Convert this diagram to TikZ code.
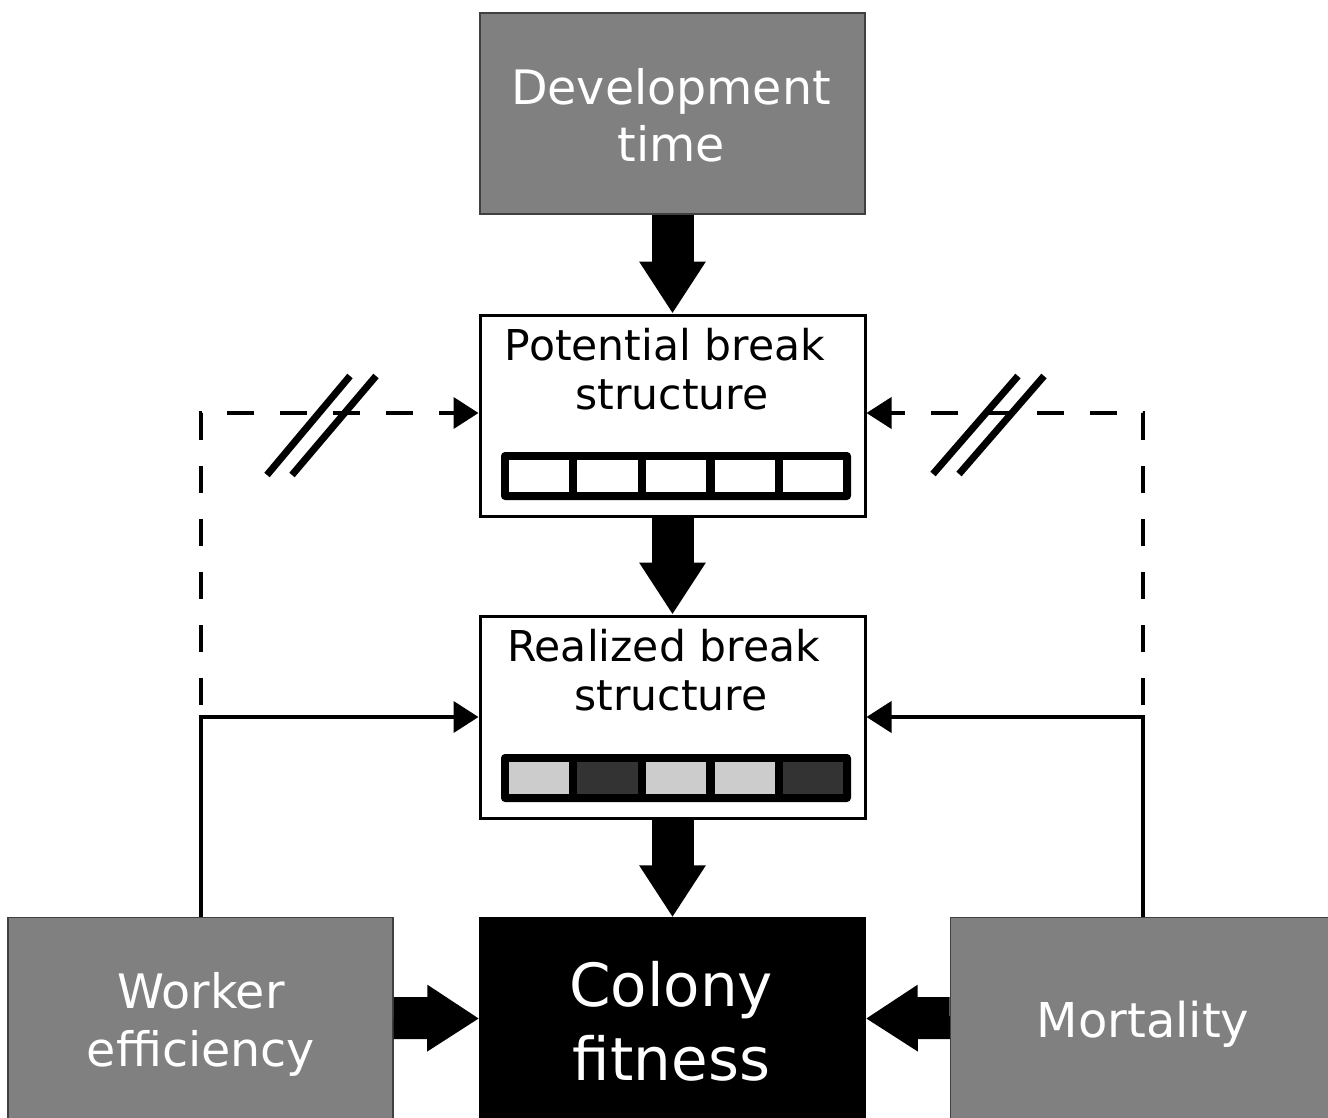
\documentclass[tikz,border=0pt]{standalone}
\usepackage{fontspec}
\setmainfont{DejaVu Sans}
\usetikzlibrary{arrows.meta}
\definecolor{boxgray}{HTML}{808080}
\definecolor{cellLight}{HTML}{CCCCCC}
\definecolor{cellDark}{HTML}{333333}
\definecolor{edgegray}{HTML}{404040}
\begin{document}
\begin{tikzpicture}[x=1pt,y=-1pt,
  graybox/.style={draw=edgegray, line width=1.5pt, fill=boxgray, minimum width=385pt, minimum height=201pt, inner sep=0pt},
  whitebox/.style={draw=black, line width=3pt, fill=white, minimum width=385pt, minimum height=201pt, inner sep=0pt},
  blackbox/.style={draw=black, line width=1.5pt, fill=black, minimum width=385pt, minimum height=201pt, inner sep=0pt},
  wtext/.style={text=white, inner sep=0pt, anchor=base},
  btext/.style={text=black, inner sep=0pt, anchor=base, font=\fontsize{42.5}{48}\selectfont},
  bigarrow/.style={draw=black, line width=42pt, -{Triangle[width=63pt,length=52pt]}},
  conn/.style={draw=black, line width=4pt, -{Triangle[width=31pt,length=25pt]}},
  dashconn/.style={conn, dash pattern=on 27pt off 26pt},
  strike/.style={draw=black, line width=7pt},
]
\useasboundingbox (0,0) rectangle (1328,1118);

% boxes
\node[graybox] (dev) at (672.5,113.5) {};
\node[whitebox] (pot) at (672.5,415.5) {};
\node[whitebox, minimum height=202pt] (real) at (672.5,717) {};
\node[blackbox] (col) at (672.5,1018.5) {};
\node[graybox] (work) at (200.5,1018) {};
\node[graybox] (mort) at (1143,1018) {};

% texts
\node[wtext, font=\fontsize{47.5}{57}\selectfont] (devA) at (671,105) {Development};
\node[wtext, font=\fontsize{47.5}{57}\selectfont] (devB) at (671.5,162) {time};
\node[btext] (potA) at (665,360) {Potential break};
\node[btext] (potB) at (672,409) {structure};
\node[btext] (realA) at (663.5,661) {Realized break};
\node[btext] (realB) at (671,710) {structure};
\node[wtext, font=\fontsize{59.5}{74}\selectfont] (colA) at (671,1006) {Colony};
\node[wtext, font=\fontsize{59.5}{74}\selectfont] (colB) at (671.5,1080) {fitness};
\node[wtext, font=\fontsize{47.5}{58}\selectfont] (workA) at (201,1008) {Worker};
\node[wtext, font=\fontsize{47.5}{58}\selectfont] (workB) at (201,1066) {efficiency};
\node[wtext, font=\fontsize{48}{58}\selectfont] (mortA) at (1143,1037) {Mortality};

% break structure bars
\fill[black, rounded corners=4pt] (501,452) rectangle (851,500);
\foreach \a/\b in {509/569,577/638,646/706,715/775,783/843}
  \fill[white] (\a,460) rectangle (\b,492);
\fill[black, rounded corners=4pt] (501,754) rectangle (851,802);
\foreach \a/\b/\c in {509/569/cellLight,577/638/cellDark,646/706/cellLight,715/775/cellLight,783/843/cellDark}
  \fill[\c] (\a,762) rectangle (\b,794);

% thick arrows
\draw[bigarrow] (dev.south) -- (pot.north);
\draw[bigarrow] (pot.south) -- (real.north);
\draw[bigarrow] (real.south) -- (col.north);
\draw[bigarrow] (work.east) -- (col.west);
\draw[bigarrow] (mort.west) -- (col.east);

% dashed connectors
\draw[dashconn] (work.north) |- ([yshift=2.5pt]pot.west);
\draw[dashconn] (mort.north) |- ([yshift=2.5pt]pot.east);
% solid connectors
\draw[conn] (work.north) |- (real.west);
\draw[conn] (mort.north) |- (real.east);

% strike marks
\draw[strike] (267,475) -- (350,376);
\draw[strike] (292,475) -- (376,376);
\draw[strike] (933,474) -- (1018,376);
\draw[strike] (959,474) -- (1044,376);
\end{tikzpicture}
\end{document}
